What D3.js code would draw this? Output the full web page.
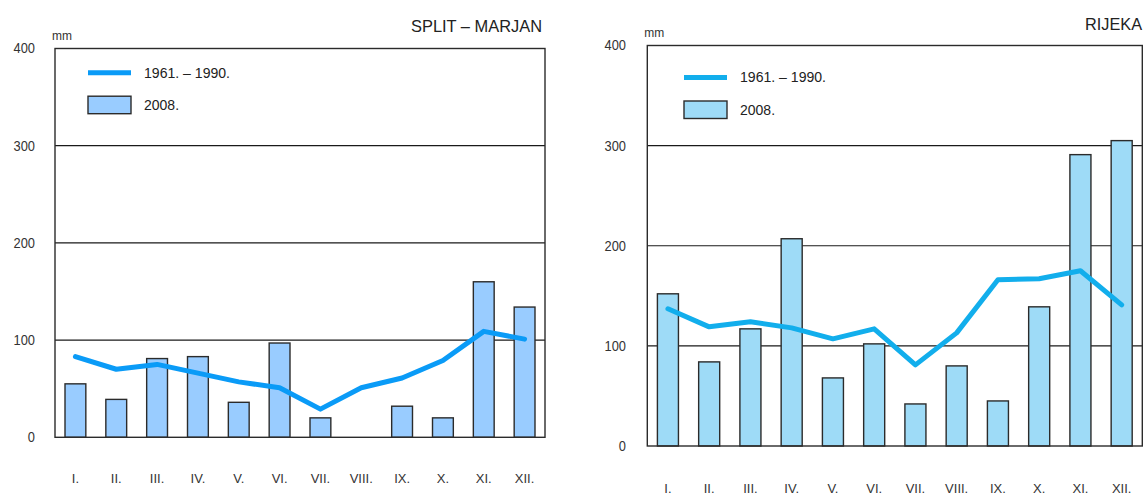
<!DOCTYPE html>
<html>
<head>
<meta charset="utf-8">
<script src="https://cdn.jsdelivr.net/npm/d3@7"></script>
<style>
  html, body { margin: 0; padding: 0; background: #fff; }
  svg { display: block; font-family: "Liberation Sans", Arial, Helvetica, sans-serif; }
</style>
</head>
<body>
<svg id="chart" width="1145" height="495"></svg>
<script>
// ---- data ----
const months = ["I.", "II.", "III.", "IV.", "V.", "VI.", "VII.", "VIII.", "IX.", "X.", "XI.", "XII."];
const yTicks = [0, 100, 200, 300, 400];
const legendLabels = ["1961. – 1990.", "2008."];
const unitLabel = "mm";

const splitTitle = "SPLIT – MARJAN";
const splitNormal = [83, 70, 75, 66, 57, 51, 29, 51, 61, 79, 109, 101];
const split2008   = [55, 39, 81, 83, 36, 97, 20, 0, 32, 20, 160, 134];

const rijekaTitle = "RIJEKA";
const rijekaNormal = [137, 119, 124, 118, 107, 117, 81, 113, 166, 167, 175, 141];
const rijeka2008   = [152, 84, 117, 207, 68, 102, 42, 80, 45, 139, 291, 305];

// ---- drawing ----
const svg = d3.select("#chart");

function drawPanel(cfg) {
  const g = svg.append("g");
  const x = d3.scaleBand().domain(months).range([cfg.x0, cfg.x1])
    .paddingInner(0.49).paddingOuter(0.245);
  const y = d3.scaleLinear().domain([0, 400]).range([cfg.y0, cfg.y1]);

  // gridlines
  g.append("g").selectAll("line").data(yTicks.filter(d => d > 0 && d < 400)).join("line")
    .attr("x1", cfg.x0).attr("x2", cfg.x1)
    .attr("y1", d => y(d)).attr("y2", d => y(d))
    .attr("stroke", "#1a1a1a").attr("stroke-width", 1.2);

  // y axis labels
  const yAxis = d3.axisLeft(y).tickValues(yTicks).tickSize(0).tickPadding(cfg.x0 - cfg.labelRight)
    .tickFormat(d3.format("d"));
  const ya = g.append("g").attr("transform", `translate(${cfg.x0},0)`).call(yAxis);
  ya.select(".domain").remove();
  ya.selectAll("text").attr("font-size", 14).attr("fill", "#333")
    .attr("font-family", "'Liberation Sans', Arial, sans-serif")
    .attr("transform", "scale(0.92,1)")
    .attr("x", -(cfg.x0 - cfg.labelRight) / 0.92);

  // bars
  g.append("g").selectAll("rect").data(cfg.bars).join("rect")
    .attr("x", (d, i) => x(months[i]))
    .attr("y", d => y(d))
    .attr("width", x.bandwidth())
    .attr("height", d => y(0) - y(d))
    .attr("fill", cfg.barFill)
    .attr("stroke", "#2b2b2b").attr("stroke-width", 1.4);

  // frame
  g.append("rect")
    .attr("x", cfg.x0).attr("y", y(400))
    .attr("width", cfg.x1 - cfg.x0).attr("height", y(0) - y(400))
    .attr("fill", "none").attr("stroke", "#2b2b2b").attr("stroke-width", 1.4);

  // line
  const line = d3.line()
    .x((d, i) => x(months[i]) + x.bandwidth() / 2)
    .y(d => y(d));
  g.append("path").datum(cfg.line)
    .attr("d", line)
    .attr("fill", "none").attr("stroke", cfg.lineColor)
    .attr("stroke-width", 5).attr("stroke-linejoin", "round").attr("stroke-linecap", "round");

  // x axis labels
  const xAxis = d3.axisBottom(x).tickSize(0).tickPadding(0);
  const xa = g.append("g").attr("transform", `translate(0,${cfg.monthY})`).call(xAxis);
  xa.select(".domain").remove();
  xa.selectAll("text").attr("font-size", 13).attr("fill", "#333")
    .attr("font-family", "'Liberation Sans', Arial, sans-serif")
    .attr("dy", "0.35em").attr("y", 0);

  // unit
  g.append("text").attr("x", cfg.x0 - 3).attr("y", cfg.y1 - 9)
    .attr("font-size", 12).attr("fill", "#333").text(unitLabel);

  // title
  g.append("text").attr("x", cfg.titleRight).attr("y", cfg.titleY)
    .attr("text-anchor", "end").attr("font-size", 17).attr("fill", "#222")
    .attr("textLength", cfg.titleWidth).attr("lengthAdjust", "spacingAndGlyphs")
    .text(cfg.title);

  // legend
  const lg = g.append("g");
  lg.append("line")
    .attr("x1", cfg.legX).attr("x2", cfg.legX + 43)
    .attr("y1", cfg.legY).attr("y2", cfg.legY)
    .attr("stroke", cfg.lineColor).attr("stroke-width", 5);
  lg.append("text").attr("x", cfg.legX + 56).attr("y", cfg.legY).attr("dy", "0.35em")
    .attr("font-size", 14).attr("fill", "#222")
    .attr("textLength", 86).attr("lengthAdjust", "spacingAndGlyphs")
    .text(legendLabels[0]);
  lg.append("rect")
    .attr("x", cfg.legX).attr("y", cfg.legY + 23.5)
    .attr("width", 43).attr("height", 17.5)
    .attr("fill", cfg.barFill).attr("stroke", "#2b2b2b").attr("stroke-width", 1.4);
  lg.append("text").attr("x", cfg.legX + 56).attr("y", cfg.legY + 32.5).attr("dy", "0.35em")
    .attr("font-size", 14).attr("fill", "#222")
    .text(legendLabels[1]);
}

drawPanel({
  x0: 55, x1: 545, y0: 437.3, y1: 48.5, labelRight: 35,
  bars: split2008, line: splitNormal,
  barFill: "#99CCFF", lineColor: "#0A9BF7",
  monthY: 478, title: splitTitle, titleRight: 542, titleY: 32, titleWidth: 131,
  legX: 88, legY: 72.7
});

drawPanel({
  x0: 647.3, x1: 1142.3, y0: 446, y1: 45.5, labelRight: 626,
  bars: rijeka2008, line: rijekaNormal,
  barFill: "#9EDBF7", lineColor: "#12AEEC",
  monthY: 488, title: rijekaTitle, titleRight: 1142, titleY: 30, titleWidth: 57,
  legX: 684, legY: 77.5
});
</script>
</body>
</html>
